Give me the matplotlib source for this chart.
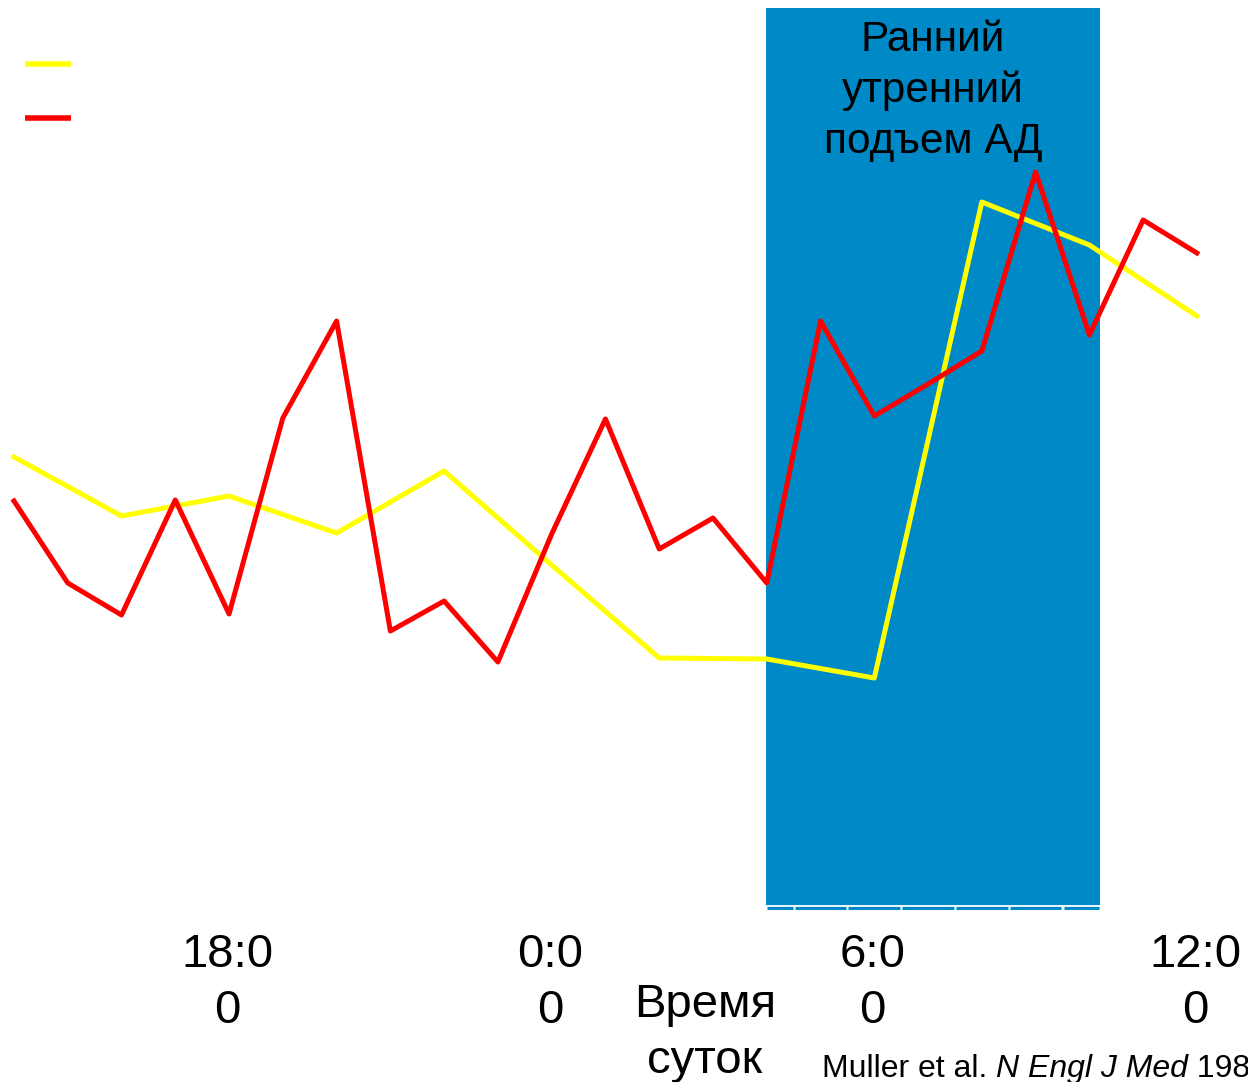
import matplotlib.pyplot as plt
from matplotlib.patches import Rectangle

plt.rcParams['font.family'] = ['Liberation Sans', 'DejaVu Sans']

# Часы суток (14:00 .. 12:00 следующего дня, 24+ = следующие сутки)
hours_red = list(range(14, 37))
red_vals = [40.4, 32.2, 29.0, 40.5, 29.1, 48.7, 58.4, 27.4, 30.4, 24.3, 37.1, 48.6,
            35.6, 38.7, 32.2, 58.4, 48.9, 52.1, 55.4, 73.3, 57.0, 68.5, 65.2]

hours_yellow = list(range(14, 37, 2))
yellow_vals = [44.8, 38.9, 40.9, 37.2, 43.4, 34.0, 24.7, 24.6, 22.7, 70.3, 66.0, 58.9]

tick_hours = [18, 24, 30, 36]
tick_labels = ["18:0\n0", "0:0\n0", "6:0\n0", "12:0\n0"]

# утренний период
morning_start, morning_end = 27.98, 34.2
box_top = 89.7

fig = plt.figure(figsize=(12.48, 10.82), dpi=100)
ax = fig.add_axes([0, 0, 1, 1])
ax.set_xlim(13.74, 36.95)
ax.set_ylim(-17.7, 90.5)
ax.axis('off')

ax.add_patch(Rectangle((morning_start, 0), morning_end - morning_start, box_top,
                       facecolor='#0089c7', edgecolor='none', zorder=1))
# риски под полосой
ax.hlines(-0.1, morning_start, morning_end, color='#e8f4fa', lw=1.2, zorder=1)
edges = [morning_start] + [h + 0.5 for h in range(28, 34)] + [morning_end]
for a, b in zip(edges[:-1], edges[1:]):
    ax.hlines(-0.3, a + 0.02, b - 0.02, color='#0089c7', lw=2.2, zorder=1)

ax.text((morning_start + morning_end) / 2, 81.4, "Ранний\nутренний\nподъем АД",
        ha='center', va='center', fontsize=30.5, linespacing=1.34, zorder=3)

ax.plot(hours_yellow, yellow_vals, color='#ffff00', lw=3.6, zorder=2)
ax.plot(hours_red, red_vals, color='#ff0000', lw=3.6, zorder=2)

# легенда без подписей
ax.plot([14.2, 15.06], [84.1, 84.1], color='#ffff00', lw=4, solid_capstyle='butt')
ax.plot([14.2, 15.06], [78.7, 78.7], color='#ff0000', lw=4, solid_capstyle='butt')

for h, lab in zip(tick_hours, tick_labels):
    ax.text(h - 0.03, -7.8, lab, ha='center', va='center', fontsize=34, linespacing=1.34)

ax.text(26.85, -12.8, "Время\nсуток", ha='center', va='center', fontsize=34, linespacing=1.34)

t1 = ax.text(29.03, -17.2, "Muller et al. ", ha='left', va='baseline', fontsize=23)
t2 = ax.annotate("N Engl J Med", xy=(1, 0), xycoords=t1, ha='left', va='bottom',
                 fontsize=23, style='italic')
ax.annotate(" 1989", xy=(1, 0), xycoords=t2, ha='left', va='bottom', fontsize=23)

fig.savefig("out.png", dpi=100)
